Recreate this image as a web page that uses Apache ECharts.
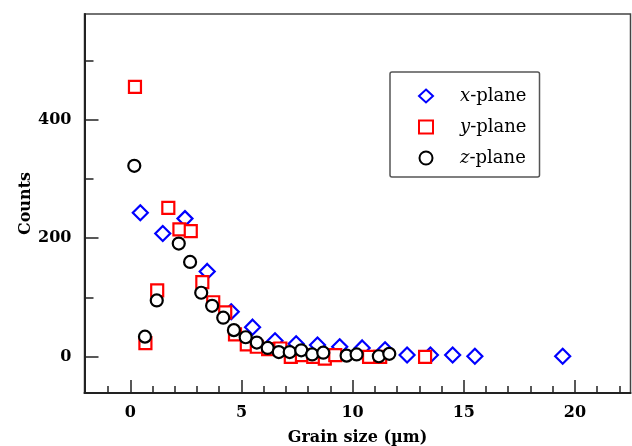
<!DOCTYPE html>
<html>
<head>
<meta charset="utf-8">
<script src="https://cdn.jsdelivr.net/npm/echarts@6/dist/echarts.min.js"></script>
<style>html,body{margin:0;padding:0;background:#fff}#c{width:632px;height:446px}</style>
</head>
<body>
<div id="c"></div>
<script>
// x-plane (blue diamonds)
var xPlaneSize = [0.45, 1.46, 2.46, 3.46, 4.54, 5.5, 6.51, 7.46, 8.42, 9.42, 10.43, 11.46, 12.45, 13.5, 14.5, 15.5, 19.45];
var xPlaneCounts = [243, 208, 233, 144, 76, 50, 27, 22, 20, 17, 15, 12, 3, 3, 3, 1, 1];
// y-plane (red squares)
var yPlaneSize = [0.21, 0.68, 1.21, 1.71, 2.21, 2.72, 3.24, 3.73, 4.27, 4.71, 5.24, 5.69, 6.2, 6.75, 7.22, 7.72, 8.23, 8.75, 9.22, 10.74, 11.24, 13.26];
var yPlaneCounts = [455, 23, 112, 251, 215, 212, 126, 92, 75, 38, 21, 17, 13, 14, 0, 3, 0, -3, 3, 0, 0, 0];
// z-plane (black circles)
var zPlaneSize = [0.18, 0.66, 1.19, 2.18, 2.69, 3.19, 3.68, 4.18, 4.66, 5.19, 5.69, 6.18, 6.68, 7.17, 7.69, 8.18, 8.68, 9.73, 10.18, 11.18, 11.65];
var zPlaneCounts = [322, 34, 95, 191, 160, 108, 86, 66, 45, 33, 24, 15, 8, 8, 11, 4, 7, 2, 4, 1, 5];

var seriesNames = ['x-plane', 'y-plane', 'z-plane'];
var xMajorTicks = [0, 5, 10, 15, 20];
var xMinorTicks = [-1, 1, 2, 3, 4, 6, 7, 8, 9, 11, 12, 13, 14, 16, 17, 18, 19, 21, 22];
var yMajorTicks = [0, 200, 400];
var yMinorTicks = [100, 300, 500];

function pairs(xs, ys) { return xs.map(function (x, i) { return [x, ys[i]]; }); }

var labelFont = { fontFamily: 'DejaVu Serif', fontWeight: 'bold', fontSize: 16, color: '#000' };

var chart = echarts.init(document.getElementById('c'), null, { renderer: 'canvas' });
chart.setOption({
  animation: false,
  backgroundColor: '#fff',
  grid: { left: 84.5, right: 1.5, top: 14, bottom: 53, show: true, borderColor: '#444', borderWidth: 1.5, outerBoundsMode: 'none', containLabel: false },
  xAxis: [{
    type: 'value', min: -2.06, max: 22.5, position: 'bottom',
    name: 'Grain size (\u00b5m)', nameLocation: 'middle', nameGap: 37, nameMoveOverlap: false,
    nameTextStyle: labelFont,
    axisLine: { show: true, onZero: false, lineStyle: { color: '#222', width: 2 } },
    axisTick: { show: true, inside: true, length: 13, customValues: xMajorTicks, lineStyle: { color: '#222', width: 1.5 } },
    axisLabel: { customValues: xMajorTicks, margin: 12, fontFamily: 'DejaVu Serif', fontWeight: 'bold', fontSize: 16, color: '#000' },
    splitLine: { show: false }
  }, {
    type: 'value', min: -2.06, max: 22.5, position: 'bottom',
    axisLine: { show: false, onZero: false },
    axisTick: { show: true, inside: true, length: 7, customValues: xMinorTicks, lineStyle: { color: '#222', width: 1.5 } },
    axisLabel: { show: false },
    splitLine: { show: false }
  }],
  yAxis: [{
    type: 'value', min: -61, max: 578, position: 'left',
    name: 'Counts', nameLocation: 'middle', nameGap: 51, nameMoveOverlap: false,
    nameTextStyle: labelFont,
    axisLine: { show: true, onZero: false, lineStyle: { color: '#222', width: 2 } },
    axisTick: { show: true, inside: true, length: 14, customValues: yMajorTicks, lineStyle: { color: '#222', width: 1.5 } },
    axisLabel: { customValues: yMajorTicks, margin: 13, fontFamily: 'DejaVu Serif', fontWeight: 'bold', fontSize: 16, color: '#000' },
    splitLine: { show: false }
  }, {
    type: 'value', min: -61, max: 578, position: 'left',
    axisLine: { show: false, onZero: false },
    axisTick: { show: true, inside: true, length: 9, customValues: yMinorTicks, lineStyle: { color: '#222', width: 1.5 } },
    axisLabel: { show: false },
    splitLine: { show: false }
  }],
  legend: {
    orient: 'vertical', left: 390, top: 72,
    padding: [15, 13, 10, 28],
    borderColor: '#555', borderWidth: 1.5, borderRadius: 2,
    backgroundColor: '#fff',
    itemWidth: 14, itemHeight: 13, itemGap: 13,
    data: seriesNames,
    formatter: function (name) { var p = name.split('-'); return '{s|}{i|' + p[0] + '}{n|-' + p[1] + '}'; },
    textStyle: {
      fontFamily: 'DejaVu Serif', fontSize: 18, color: '#000',
      rich: {
        s: { width: 22, height: 10 },
        i: { fontFamily: 'DejaVu Serif', fontSize: 18, fontStyle: 'italic', color: '#000' },
        n: { fontFamily: 'DejaVu Serif', fontSize: 18, color: '#000' }
      }
    }
  },
  series: [{
    name: seriesNames[0], type: 'scatter', xAxisIndex: 0, yAxisIndex: 0,
    symbol: 'diamond', symbolSize: 15,
    itemStyle: { color: '#fff', borderColor: '#0000ff', borderWidth: 2.2, opacity: 1 },
    data: pairs(xPlaneSize, xPlaneCounts), z: 2
  }, {
    name: seriesNames[1], type: 'scatter', xAxisIndex: 0, yAxisIndex: 0,
    symbol: 'rect', symbolSize: 12,
    itemStyle: { color: '#fff', borderColor: '#ff0000', borderWidth: 2.2, opacity: 1 },
    data: pairs(yPlaneSize, yPlaneCounts), z: 3
  }, {
    name: seriesNames[2], type: 'scatter', xAxisIndex: 0, yAxisIndex: 0,
    symbol: 'circle', symbolSize: 12,
    itemStyle: { color: '#fff', borderColor: '#000', borderWidth: 2.2, opacity: 1 },
    data: pairs(zPlaneSize, zPlaneCounts), z: 4
  }]
});
</script>
</body>
</html>
